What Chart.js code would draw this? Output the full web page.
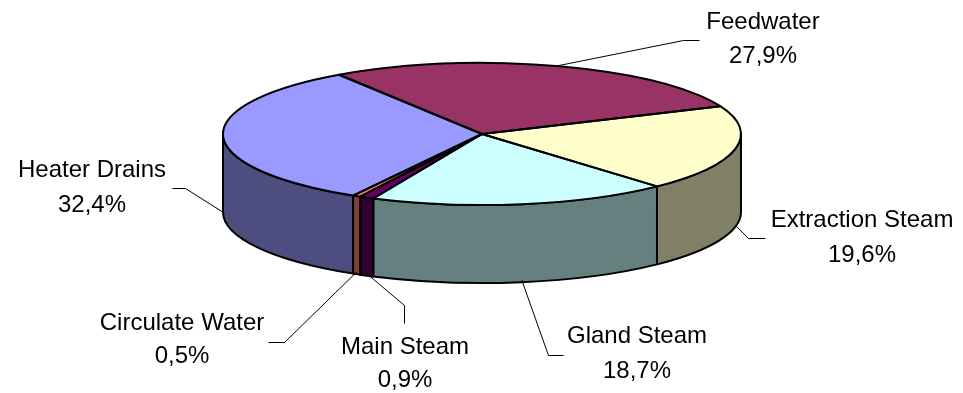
<!DOCTYPE html>
<html>
<head>
<meta charset="utf-8">
<script src="https://cdn.jsdelivr.net/npm/chart.js@4.4.1/dist/chart.umd.min.js"></script>
<style>
  html, body { margin: 0; padding: 0; background: #ffffff; }
  #wrap { width: 963px; height: 393px; }
</style>
</head>
<body>
<div id="wrap"><canvas id="c" width="963" height="393"></canvas></div>
<script>
// ---- data ----
const categories = ['Feedwater', 'Extraction Steam', 'Gland Steam', 'Main Steam', 'Circulate Water', 'Heater Drains'];
const shares = [27.9, 19.6, 18.7, 0.9, 0.5, 32.4];
const topColors = ['#993366', '#FFFFCC', '#CCFFFF', '#660066', '#FF8080', '#9999FF'];
const sideColors = ['#4D1A33', '#808066', '#668080', '#330033', '#804040', '#4D4D80'];

// ---- layout (3D projection of the pie + label placement) ----
const view = { cx: 482, cy: 134, a: 259, b: 71, depth: 78 };
const labelLayout = [
  { x: 763, y1: 29,  y2: 63,  elbow: [683, 40],  end: [699, 40] },
  { x: 862, y1: 227, y2: 262, elbow: [748, 238], end: [765, 238] },
  { x: 637, y1: 343, y2: 378, elbow: [548, 355], end: [563, 355] },
  { x: 405, y1: 354, y2: 387, elbow: [404, 305], end: [404, 323] },
  { x: 182, y1: 330, y2: 363, elbow: [284, 342], end: [268, 342] },
  { x: 92,  y1: 177, y2: 212, elbow: [185, 188], end: [172, 188] }
];

function fmtPct(v) { return v.toFixed(1).replace('.', ',') + '%'; }

function frontIntervals(s, e) {
  const out = [];
  for (let k = -1; k <= 2; k++) {
    const lo = Math.max(s, 2 * Math.PI * k), hi = Math.min(e, 2 * Math.PI * k + Math.PI);
    if (hi > lo) out.push([lo, hi]);
  }
  return out;
}

const pie3d = {
  id: 'pie3d',
  beforeDatasetsDraw(chart) {
    const ctx = chart.ctx;
    const meta = chart.getDatasetMeta(0);
    const { cx, cy, a, b, depth } = view;
    // side walls
    ctx.save();
    ctx.lineWidth = 2;
    ctx.strokeStyle = '#000';
    ctx.lineJoin = 'round';
    meta.data.forEach((el, i) => {
      const p = el.getProps(['startAngle', 'endAngle'], true);
      frontIntervals(p.startAngle, p.endAngle).forEach(([s, e]) => {
        ctx.beginPath();
        ctx.ellipse(cx, cy, a, b, 0, s, e, false);
        ctx.lineTo(cx + a * Math.cos(e), cy + depth + b * Math.sin(e));
        ctx.ellipse(cx, cy + depth, a, b, 0, e, s, true);
        ctx.closePath();
        ctx.fillStyle = sideColors[i];
        ctx.fill();
        ctx.stroke();
      });
    });
    ctx.restore();
    // projection for the library's own top-face arcs
    const el0 = meta.data[0].getProps(['x', 'y', 'outerRadius'], true);
    ctx.save();
    ctx.translate(cx, cy);
    ctx.scale(a / el0.outerRadius, b / el0.outerRadius);
    ctx.translate(-el0.x, -el0.y);
  },
  afterDatasetsDraw(chart) {
    const ctx = chart.ctx;
    ctx.restore();
    const meta = chart.getDatasetMeta(0);
    const { cx, cy, a, b, depth } = view;
    // top outlines
    ctx.save();
    ctx.lineWidth = 2;
    ctx.strokeStyle = '#000';
    ctx.lineJoin = 'round';
    meta.data.forEach((el) => {
      const p = el.getProps(['startAngle', 'endAngle'], true);
      ctx.beginPath();
      ctx.moveTo(cx, cy);
      ctx.lineTo(cx + a * Math.cos(p.startAngle), cy + b * Math.sin(p.startAngle));
      ctx.ellipse(cx, cy, a, b, 0, p.startAngle, p.endAngle, false);
      ctx.closePath();
      ctx.stroke();
    });
    ctx.restore();
    // leader lines and labels
    ctx.save();
    ctx.lineWidth = 1;
    ctx.strokeStyle = '#000';
    ctx.fillStyle = '#000';
    ctx.font = '24px "Liberation Sans", Arial, sans-serif';
    ctx.textAlign = 'center';
    ctx.textBaseline = 'alphabetic';
    meta.data.forEach((el, i) => {
      const p = el.getProps(['startAngle', 'endAngle'], true);
      const m = (p.startAngle + p.endAngle) / 2;
      const front = Math.sin(m) > 0;
      const ax = cx + a * Math.cos(m);
      const ay = cy + b * Math.sin(m) + (front ? depth - 2 : 0);
      const L = labelLayout[i];
      ctx.beginPath();
      ctx.moveTo(ax, ay);
      ctx.lineTo(L.elbow[0] + 0.5, L.elbow[1] + 0.5);
      ctx.lineTo(L.end[0] + 0.5, L.end[1] + 0.5);
      ctx.stroke();
      ctx.fillText(chart.data.labels[i], L.x, L.y1);
      ctx.fillText(fmtPct(chart.data.datasets[0].data[i]), L.x, L.y2);
    });
    ctx.restore();
  }
};

new Chart(document.getElementById('c'), {
  type: 'pie',
  data: {
    labels: categories,
    datasets: [{
      data: shares,
      backgroundColor: topColors,
      borderWidth: 0
    }]
  },
  options: {
    responsive: false,
    animation: false,
    events: [],
    rotation: -33.5,
    layout: { padding: 0 },
    plugins: {
      legend: { display: false },
      tooltip: { enabled: false }
    }
  },
  plugins: [pie3d]
});
</script>
</body>
</html>
